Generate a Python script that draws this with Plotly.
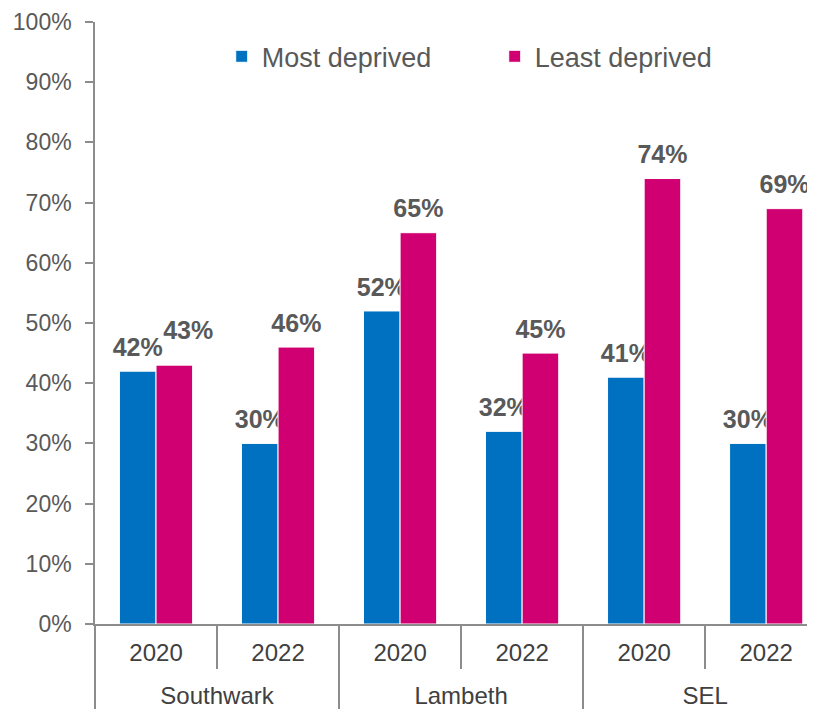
import plotly.graph_objects as go

regions = ["Southwark", "Southwark", "Lambeth", "Lambeth", "SEL", "SEL"]
years = ["2020", "2022", "2020", "2022", "2020", "2022"]
most_deprived = [42, 30, 52, 32, 41, 30]
least_deprived = [43, 46, 65, 45, 74, 69]
y_ticks = list(range(0, 101, 10))

BLUE = "#0070C0"
PINK = "#D00072"
GREY_TXT = "#595959"
AXIS = "#8C8C8C"
FONT = "Liberation Sans, Arial, sans-serif"

# label nudges (styling only): the "43%" label sits up and right in the original
nudge_least = [True, False, False, False, False, False]


def labels(vals, nudges=None):
    out = []
    for i, v in enumerate(vals):
        nud = nudges[i] if nudges else False
        pre = "&nbsp;" * 4 if nud else ""
        extra = "<br> " if nud else ""
        out.append(f"<span style='font-size:25px'>{pre}{v}%</span><br> {extra}")
    return out


def padded(label):
    # invisible padding makes the first label row taller, pushing the group row down
    sp = "<span style='font-size:42px'>&nbsp;</span>"
    return f"{sp}{label}{sp}"


x_cats = [regions, [padded(y) for y in years]]

fig = go.Figure()
for name, vals, col, nud in [("Most deprived", most_deprived, BLUE, None),
                             ("Least deprived", least_deprived, PINK, nudge_least)]:
    fig.add_trace(go.Bar(
        name=name,
        x=x_cats,
        y=vals,
        marker=dict(color=col, line=dict(color="white", width=1)),
        text=labels(vals, nud),
        textposition="outside",
        textfont=dict(size=8, color=GREY_TXT, family=FONT, weight="bold"),
        constraintext="none",
        cliponaxis=False,
        hoverinfo="y+name",
    ))

fig.update_layout(
    width=815, height=710,
    margin=dict(l=87, r=8, t=14, b=94),
    paper_bgcolor="white", plot_bgcolor="white",
    barmode="group", bargap=0.4, bargroupgap=0.0,
    font=dict(family=FONT, color=GREY_TXT, size=22),
    legend=dict(orientation="h", x=0.176, xanchor="left", y=0.983, yanchor="top",
                font=dict(size=27, color=GREY_TXT), entrywidth=228,
                entrywidthmode="pixels", bgcolor="rgba(0,0,0,0)"),
    showlegend=True,
)
fig.update_yaxes(
    range=[0, 100], tickvals=y_ticks, ticktext=[f"{t}%" for t in y_ticks],
    showgrid=False, zeroline=False, showline=True, linecolor=AXIS, linewidth=1.5,
    ticks="outside", ticklen=8, tickcolor=AXIS, tickwidth=1.5,
    tickfont=dict(size=23, color=GREY_TXT), ticklabelstandoff=9, automargin=False,
)
fig.update_xaxes(
    type="multicategory", range=[-0.5, 5.4],
    showgrid=False, showline=True, linecolor=AXIS, linewidth=1.5,
    ticks="outside", ticklen=43, tickcolor=AXIS, tickwidth=1.5,
    showdividers=True, dividercolor=AXIS, dividerwidth=1.5,
    tickfont=dict(size=24, color="#404040"), ticklabelstandoff=6, automargin=False,
)

fig.write_html("out.html")
